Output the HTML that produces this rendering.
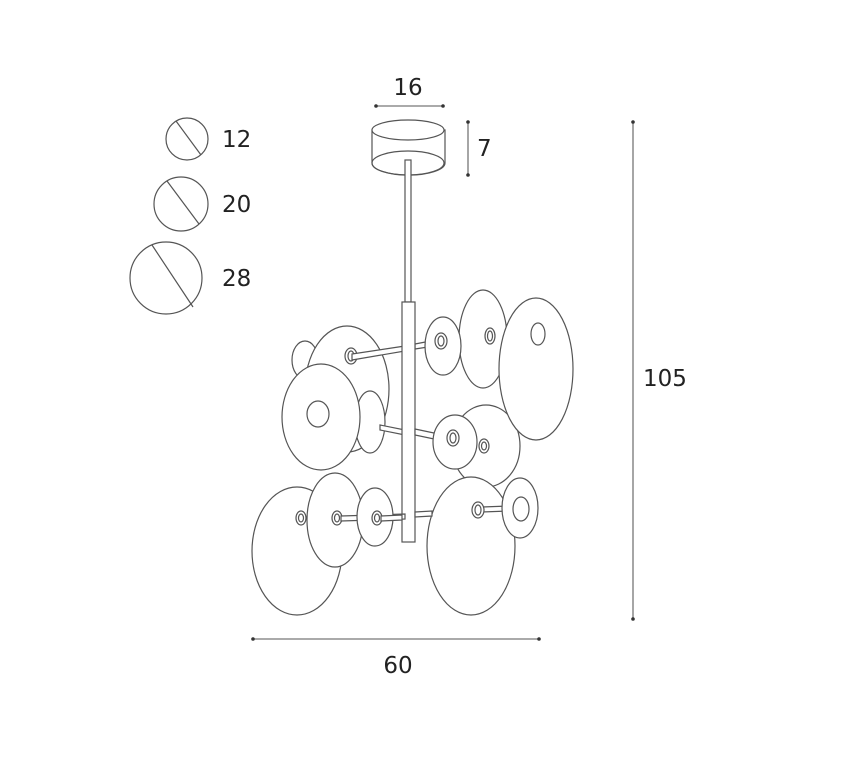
<!DOCTYPE html>
<html><head><meta charset="utf-8"><style>
html,body{margin:0;padding:0;background:#fff;}
svg{display:block}
text{font-family:"DejaVu Sans","Liberation Sans",sans-serif;fill:#222;font-size:23px}
</style></head><body>
<svg width="844" height="764" viewBox="0 0 844 764" xmlns="http://www.w3.org/2000/svg">
<g fill="#fff" stroke="#555" stroke-width="1.2">
<circle cx="187" cy="139" r="21"/><line x1="176" y1="121" x2="201" y2="155"/>
<circle cx="181" cy="204" r="27"/><line x1="167" y1="181" x2="199" y2="224"/>
<circle cx="166" cy="278" r="36"/><line x1="152" y1="245" x2="193" y2="307"/>
</g>
<text x="222" y="147">12</text>
<text x="222" y="212">20</text>
<text x="222" y="286">28</text>
<g stroke="#777" stroke-width="1.3" fill="#444">
<line x1="376" y1="106" x2="443" y2="106"/>
<line x1="468" y1="122" x2="468" y2="175"/>
<line x1="633" y1="122" x2="633" y2="619"/>
<line x1="253" y1="639" x2="539" y2="639"/>
</g>
<g fill="#333">
<circle cx="376" cy="106" r="1.8"/><circle cx="443" cy="106" r="1.8"/>
<circle cx="468" cy="122" r="1.8"/><circle cx="468" cy="175" r="1.8"/>
<circle cx="633" cy="122" r="1.8"/><circle cx="633" cy="619" r="1.8"/>
<circle cx="253" cy="639" r="1.8"/><circle cx="539" cy="639" r="1.8"/>
</g>
<text x="408" y="95" text-anchor="middle">16</text>
<text x="477" y="156">7</text>
<text x="643" y="386">105</text>
<text x="398" y="673" text-anchor="middle">60</text>
<g fill="#fff" stroke="#555" stroke-width="1.2">
<path d="M372 130 L372 163 A36 12 0 0 0 445 163 L445 130 Z"/>
<ellipse cx="408" cy="130" rx="36" ry="10"/>
<ellipse cx="408" cy="163" rx="36" ry="12" fill="none"/>
<rect x="405" y="160" width="6" height="142"/>
<ellipse cx="305" cy="360" rx="13" ry="19"/>
<ellipse cx="347" cy="389" rx="42" ry="63"/>
<ellipse cx="351" cy="356" rx="6" ry="8"/><ellipse cx="351" cy="356" rx="3" ry="5"/>
<ellipse cx="486" cy="446" rx="34" ry="41"/>
<ellipse cx="484" cy="446" rx="5" ry="7"/><ellipse cx="484" cy="446" rx="2.5" ry="4"/>
<ellipse cx="483" cy="339" rx="24" ry="49"/>
<ellipse cx="490" cy="336" rx="5" ry="8"/><ellipse cx="490" cy="336" rx="2.5" ry="5"/>
<ellipse cx="536" cy="369" rx="37" ry="71"/>
<ellipse cx="538" cy="334" rx="7" ry="11"/>
<ellipse cx="370" cy="422" rx="15" ry="31"/>
<ellipse cx="297" cy="551" rx="45" ry="64"/>
<ellipse cx="301" cy="518" rx="5" ry="7"/><ellipse cx="301" cy="518" rx="2.5" ry="4"/>
<path d="M352 354 L405 346 L405 351 L352 360 Z"/>
<path d="M380 425 L405 430 L405 435 L380 430 Z"/>
<path d="M415 344 L441 339 L441 345 L415 349 Z"/>
<rect x="402" y="302" width="13" height="240"/>
<ellipse cx="443" cy="346" rx="18" ry="29"/>
<ellipse cx="441" cy="341" rx="6" ry="8"/><ellipse cx="441" cy="341" rx="3" ry="5"/>
<path d="M415 429 L453 437 L453 443 L415 435 Z"/>
<ellipse cx="455" cy="442" rx="22" ry="27"/>
<ellipse cx="453" cy="438" rx="6" ry="8"/><ellipse cx="453" cy="438" rx="3" ry="5"/>
<ellipse cx="321" cy="417" rx="39" ry="53"/>
<ellipse cx="318" cy="414" rx="11" ry="13"/>
<ellipse cx="335" cy="520" rx="28" ry="47"/>
<ellipse cx="337" cy="518" rx="5" ry="7"/><ellipse cx="337" cy="518" rx="2.5" ry="4"/>
<path d="M341 516 L405 514 L405 519 L341 521 Z"/>
<ellipse cx="375" cy="517" rx="18" ry="29"/>
<ellipse cx="377" cy="518" rx="5" ry="7"/><ellipse cx="377" cy="518" rx="2.5" ry="4"/>
<path d="M381 516 L402 515 L402 520 L381 521 Z"/>
<ellipse cx="471" cy="546" rx="44" ry="69"/>
<path d="M415 512 L432 511 L432 516 L415 517 Z"/>
<path d="M482 507 L510 506 L510 511 L482 512 Z"/>
<ellipse cx="478" cy="510" rx="6" ry="8"/><ellipse cx="478" cy="510" rx="3" ry="5"/>
<ellipse cx="520" cy="508" rx="18" ry="30"/>
<ellipse cx="521" cy="509" rx="8" ry="12"/>
</g>
</svg>
</body></html>
